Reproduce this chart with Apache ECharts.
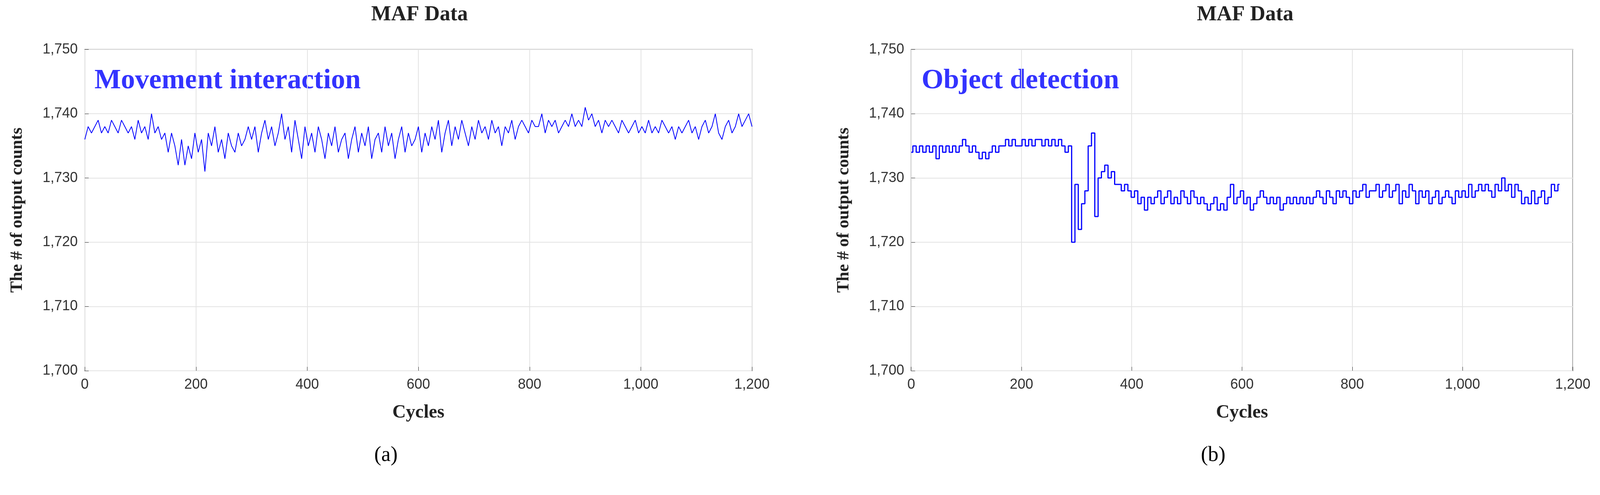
<!DOCTYPE html>
<html>
<head>
<meta charset="utf-8">
<script src="https://cdn.jsdelivr.net/npm/echarts@6/dist/echarts.min.js"></script>
<style>html,body{margin:0;padding:0;background:#fff;overflow:hidden}#chart{width:100vw;height:100vh}</style>
</head>
<body>
<div id="chart"></div>
<script>
// MAF counts, sampled every 6 cycles
var STEP = 6;
var movementVals = [
    1736,1738,1737,1738,1739,1737,1738,1737,1739,1738,
    1737,1739,1738,1737,1738,1736,1739,1737,1738,1736,
    1740,1737,1738,1736,1737,1734,1737,1735,1732,1736,
    1732,1735,1733,1737,1734,1736,1731,1737,1735,1738,
    1734,1736,1733,1737,1735,1734,1737,1735,1736,1738,
    1736,1738,1734,1737,1739,1736,1738,1735,1737,1740,
    1736,1738,1734,1739,1736,1733,1738,1735,1737,1734,
    1738,1736,1733,1737,1735,1738,1734,1736,1737,1733,
    1736,1738,1734,1737,1735,1738,1733,1736,1737,1734,
    1738,1735,1737,1733,1736,1738,1734,1737,1735,1736,
    1738,1734,1737,1735,1738,1736,1739,1734,1737,1739,
    1735,1738,1736,1739,1737,1735,1738,1736,1739,1737,
    1738,1736,1739,1737,1738,1735,1738,1737,1739,1736,
    1738,1739,1738,1737,1739,1738,1738,1740,1737,1739,
    1738,1739,1737,1738,1739,1738,1740,1738,1739,1738,
    1741,1739,1740,1738,1739,1737,1739,1738,1739,1738,
    1737,1739,1738,1737,1738,1739,1737,1738,1737,1739,
    1737,1738,1737,1739,1738,1737,1738,1736,1738,1737,
    1738,1739,1737,1738,1736,1738,1739,1737,1738,1740,
    1737,1736,1738,1739,1737,1738,1740,1738,1739,1740,
    1738
];
var objectVals = [
    1734,1735,1734,1735,1734,1735,1734,1735,1733,1735,
    1734,1735,1734,1735,1734,1735,1736,1735,1734,1735,
    1734,1733,1734,1733,1734,1735,1734,1735,1735,1736,
    1735,1736,1735,1735,1736,1735,1736,1735,1736,1736,
    1735,1736,1735,1736,1735,1736,1735,1734,1735,1720,
    1729,1722,1726,1728,1735,1737,1724,1730,1731,1732,
    1730,1731,1729,1729,1728,1729,1728,1727,1728,1726,
    1727,1725,1727,1726,1727,1728,1726,1727,1728,1726,
    1727,1726,1728,1727,1726,1728,1727,1726,1727,1726,
    1725,1726,1727,1725,1726,1725,1727,1729,1726,1727,
    1728,1726,1727,1725,1726,1727,1728,1727,1726,1727,
    1726,1727,1725,1726,1727,1726,1727,1726,1727,1726,
    1727,1726,1727,1728,1727,1726,1728,1727,1726,1728,
    1727,1728,1727,1726,1728,1727,1728,1729,1727,1728,
    1728,1729,1727,1728,1729,1727,1728,1729,1726,1728,
    1727,1729,1728,1726,1728,1727,1728,1726,1727,1728,
    1726,1727,1728,1727,1726,1728,1727,1728,1727,1729,
    1727,1728,1729,1728,1729,1728,1727,1729,1728,1730,
    1728,1729,1727,1729,1728,1726,1727,1726,1728,1726,
    1727,1728,1726,1727,1729,1728,1729
];
var titles = ['MAF Data', 'MAF Data'];
var notes = ['Movement interaction', 'Object detection'];
var panelLabels = ['a', 'b'];

function toPairs(vals) {
    var out = [];
    for (var i = 0; i < vals.length; i++) out.push([i * STEP, vals[i]]);
    return out;
}

var serif = 'Liberation Serif';
var grids = [
    { left: '5.3%', right: '53%', top: '10%', bottom: '25.1%' },
    { left: '56.95%', right: '1.7%', top: '10%', bottom: '25.1%' }
];
grids.forEach(function(g) {
    g.show = true; g.borderColor = '#333'; g.borderWidth = 2; g.backgroundColor = '#fff';
});

function xAxis(i) {
    return {
        gridIndex: i, type: 'value', min: 0, max: 1200, interval: 200,
        name: 'Cycles', nameLocation: 'middle', nameGap: 84,
        nameTextStyle: { fontFamily: serif, fontWeight: 'bold', fontSize: 48, color: '#222' },
        axisLine: { show: false }, axisTick: { show: true, inside: true, length: 10, lineStyle: { color: '#333' } },
        axisLabel: { fontFamily: 'Liberation Sans', fontSize: 36, color: '#333', margin: 18, formatter: '{value}' },
        splitLine: { show: true, lineStyle: { color: '#e3e3e3', width: 2 } }
    };
}
function yAxis(i) {
    return {
        gridIndex: i, type: 'value', min: 1700, max: 1750, interval: 10,
        name: 'The # of output counts', nameLocation: 'middle', nameGap: 150,
        nameTextStyle: { fontFamily: serif, fontWeight: 'bold', fontSize: 44, color: '#222' },
        axisLine: { show: false }, axisTick: { show: true, inside: true, length: 10, lineStyle: { color: '#333' } },
        axisLabel: { fontFamily: 'Liberation Sans', fontSize: 36, color: '#333', margin: 18, formatter: '{value}' },
        splitLine: { show: true, lineStyle: { color: '#e3e3e3', width: 2 } }
    };
}

var chart = echarts.init(document.getElementById('chart'));
chart.setOption({
    animation: false,
    backgroundColor: '#fff',
    title: [
        { text: titles[0], left: '26.1%', top: '0.5%', textAlign: 'center', textStyle: { fontFamily: serif, fontWeight: 'bold', fontSize: 54, color: '#222' } },
        { text: titles[1], left: '77.7%', top: '0.5%', textAlign: 'center', textStyle: { fontFamily: serif, fontWeight: 'bold', fontSize: 54, color: '#222' } },
        { text: '(' + panelLabels[0] + ')', left: '24%', top: '89.5%', textAlign: 'center', textStyle: { fontFamily: serif, fontWeight: 'normal', fontSize: 54, color: '#000' } },
        { text: '(' + panelLabels[1] + ')', left: '75.7%', top: '89.5%', textAlign: 'center', textStyle: { fontFamily: serif, fontWeight: 'normal', fontSize: 54, color: '#000' } }
    ],
    graphic: [
        { type: 'text', left: '5.9%', top: '13.5%', style: { text: notes[0], fontFamily: serif, fontWeight: 'bold', fontSize: 72, fill: '#3333ff' } },
        { type: 'text', left: '57.6%', top: '13.5%', style: { text: notes[1], fontFamily: serif, fontWeight: 'bold', fontSize: 72, fill: '#3333ff' } }
    ],
    grid: grids,
    xAxis: [xAxis(0), xAxis(1)],
    yAxis: [yAxis(0), yAxis(1)],
    series: [
        { type: 'line', xAxisIndex: 0, yAxisIndex: 0, data: toPairs(movementVals), showSymbol: false, lineStyle: { color: '#0000ff', width: 2 } },
        { type: 'line', xAxisIndex: 1, yAxisIndex: 1, data: toPairs(objectVals), showSymbol: false, step: 'middle', lineStyle: { color: '#0000ff', width: 3 } }
    ]
});
</script>
</body>
</html>
